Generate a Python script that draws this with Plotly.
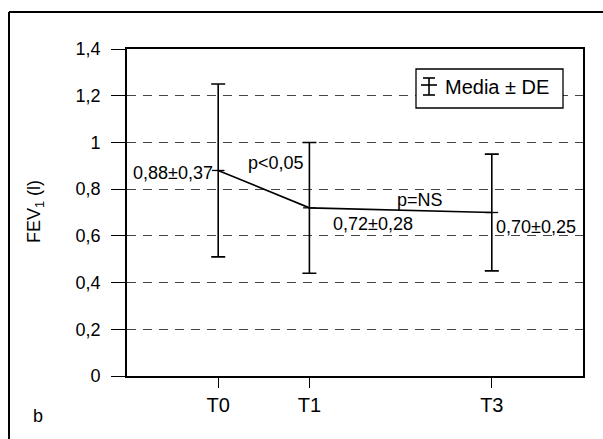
import plotly.graph_objects as go

# FEV1 (litres) at each follow-up time point
times = ["T0", "T1", "T3"]
time_pos = [0, 1, 3]
fev1_mean = [0.88, 0.72, 0.70]
fev1_sd = [0.37, 0.28, 0.25]

y_ticks = [0, 0.2, 0.4, 0.6, 0.8, 1.0, 1.2, 1.4]
y_ticktext = ["0", "0,2", "0,4", "0,6", "0,8", "1", "1,2", "1,4"]

# p-values between consecutive time points
p_labels = ["p<0,05", "p=NS"]

FONT = "Liberation Sans, Arial, sans-serif"

# plot-area geometry in pixels (used to convert paper positions)
L, R, T, B = 127, 583, 49, 376
W, H = 603, 439


def px(xp):
    return (xp - L) / (R - L)


def py(yp):
    return (B - yp) / (B - T)


def fmt(v):
    return f"{v:.2f}".replace(".", ",")


fig = go.Figure()
fig.add_trace(go.Scatter(
    x=time_pos, y=fev1_mean, mode="lines+markers",
    line=dict(color="black", width=1.6),
    marker=dict(symbol="line-ew-open", size=9, color="black",
                line=dict(color="black", width=1.3)),
    error_y=dict(type="data", array=fev1_sd, visible=True,
                 color="black", thickness=1.6, width=7),
    showlegend=False, hoverinfo="skip",
))

# mean ± SD labels
label_pos = [("right", -3, -3), ("left", 22, -16), ("left", 2, -14)]
for x, m, s, (anchor, dx, dy) in zip(time_pos, fev1_mean, fev1_sd, label_pos):
    fig.add_annotation(x=x, y=m, xref="x", yref="y",
                       text=f"{fmt(m)}±{fmt(s)}", showarrow=False,
                       xanchor=anchor, yanchor="middle", xshift=dx, yshift=dy,
                       font=dict(family=FONT, size=18, color="black"))

# significance labels between points
fig.add_annotation(x=0.63, y=0.912, xref="x", yref="y", text=p_labels[0],
                   showarrow=False, font=dict(family=FONT, size=18, color="black"))
fig.add_annotation(x=2.21, y=0.753, xref="x", yref="y", text=p_labels[1],
                   showarrow=False, font=dict(family=FONT, size=18, color="black"))

# y-axis title
fig.add_annotation(x=px(35), y=py(212), xref="paper", yref="paper",
                   text="FEV<sub>1</sub> (l)", textangle=-90, showarrow=False,
                   xanchor="center", yanchor="middle",
                   font=dict(family=FONT, size=18, color="black"))

# panel letter
fig.add_annotation(x=px(38), y=py(416), xref="paper", yref="paper",
                   text="b", showarrow=False, xanchor="center", yanchor="middle",
                   font=dict(family=FONT, size=18, color="black"))

# legend label
fig.add_annotation(x=px(443), y=py(87), xref="paper", yref="paper",
                   text="Media ± DE", showarrow=False,
                   xanchor="left", yanchor="middle",
                   font=dict(family=FONT, size=20, color="black"))

shapes = []
# legend frame (white fill hides the grid behind it)
shapes.append(dict(type="rect", xref="paper", yref="paper",
                   x0=px(416), x1=px(563), y0=py(69), y1=py(108),
                   fillcolor="white", line=dict(color="black", width=1.3)))
# error-bar glyph in the legend box
for yy, a, b in ((78, 423, 435), (85, 421, 437), (95, 423, 435)):
    shapes.append(dict(type="line", xref="paper", yref="paper",
                       x0=px(a), x1=px(b), y0=py(yy), y1=py(yy),
                       line=dict(color="black", width=1.6)))
shapes.append(dict(type="line", xref="paper", yref="paper",
                   x0=px(429), x1=px(429), y0=py(78), y1=py(95),
                   line=dict(color="black", width=1.6)))
# panel frame: top and left edges
shapes.append(dict(type="line", xref="paper", yref="paper",
                   x0=px(9), x1=px(W + 10), y0=py(12), y1=py(12),
                   line=dict(color="black", width=2)))
shapes.append(dict(type="line", xref="paper", yref="paper",
                   x0=px(9), x1=px(9), y0=py(12), y1=py(H + 10),
                   line=dict(color="black", width=2)))
fig.update_layout(shapes=shapes)

fig.update_xaxes(range=[-1, 4], tickvals=time_pos, ticktext=times,
                 showgrid=False, zeroline=False,
                 showline=True, linecolor="black", linewidth=1.8, mirror=True,
                 ticks="outside", ticklen=10, tickwidth=1.3, tickcolor="black",
                 ticklabelstandoff=0,
                 tickfont=dict(family=FONT, size=20, color="black"))
fig.update_yaxes(range=[0, 1.4], tickvals=y_ticks, ticktext=y_ticktext,
                 showgrid=True, gridcolor="#444444", gridwidth=1.3,
                 griddash="9px,7px", zeroline=False,
                 showline=True, linecolor="black", linewidth=1.8, mirror=True,
                 ticks="outside", ticklen=14, tickwidth=1.3, tickcolor="black",
                 ticklabelstandoff=7,
                 tickfont=dict(family=FONT, size=18, color="black"))

fig.update_layout(
    width=W, height=H,
    margin=dict(l=L, r=W - R, t=T, b=H - B),
    paper_bgcolor="white", plot_bgcolor="white",
    showlegend=False,
)

fig.write_html("out.html")
